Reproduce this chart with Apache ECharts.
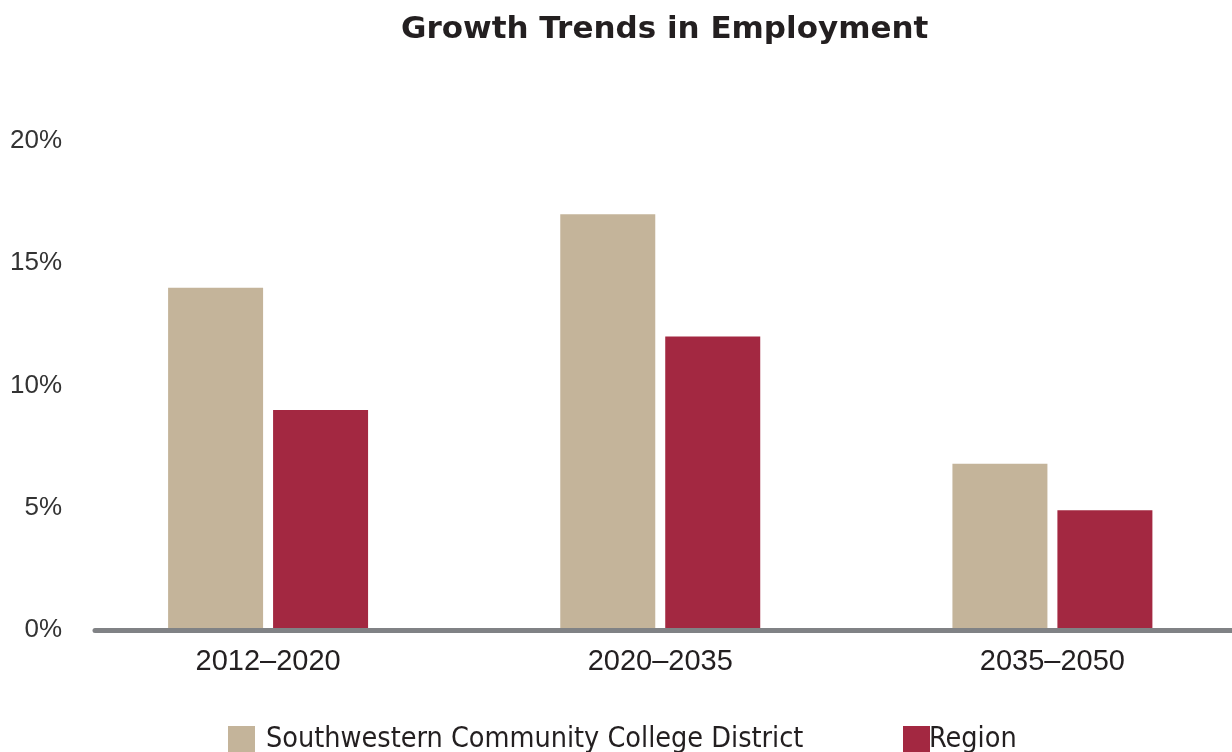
<!DOCTYPE html>
<html>
<head>
<meta charset="utf-8">
<script src="https://cdn.jsdelivr.net/npm/echarts@6/dist/echarts.min.js"></script>
<style>
  html, body { margin: 0; padding: 0; background: #fff; overflow: hidden; }
  /* a touch wider than the window so the last category band can run off the right edge */
  #chart { width: 1250px; height: 752px; }
</style>
</head>
<body>
<div id="chart"></div>
<script>
// periods along the x axis
var periods = ['2012–2020', '2020–2035', '2035–2050']
// employment growth, percent
var districtGrowth = [14, 17, 6.8]
var regionGrowth = [9, 12, 4.9]
var yTicks = { min: 0, max: 20, step: 5 }

var chart = echarts.init(document.getElementById('chart'))

var legendText = {
  fontFamily: "'DejaVu Sans Condensed', 'Roboto Condensed', Roboto, sans-serif",
  fontSize: 28.5,
  color: '#231f20'
}

chart.setOption({
  animation: false,
  title: {
    text: 'Growth Trends in Employment',
    left: 396,
    top: 9,
    textStyle: {
      fontFamily: 'DejaVu Sans',
      fontWeight: 'bold',
      fontSize: 31,
      color: '#231f20'
    }
  },
  legend: [
    {
      data: ['Southwestern Community College District'],
      left: 223,
      top: 720,
      itemWidth: 27,
      itemHeight: 27,
      icon: 'rect',
      textStyle: Object.assign({ padding: [0, 0, 0, 6] }, legendText)
    },
    {
      data: ['Region'],
      left: 898,
      top: 720,
      itemWidth: 27,
      itemHeight: 27,
      icon: 'rect',
      textStyle: Object.assign({ padding: [0, 0, 0, -6] }, legendText)
    }
  ],
  grid: [
    { left: 72, right: 1.5, top: 141, bottom: 122 },
    { left: 95, right: 18, top: 141, bottom: 121.5 }
  ],
  xAxis: [
    {
      type: 'category',
      gridIndex: 0,
      data: periods,
      axisLine: { show: false },
      axisTick: { show: false },
      axisLabel: {
        margin: 17,
        fontFamily: 'Liberation Sans',
        fontSize: 29,
        color: '#231f20'
      }
    },
    {
      type: 'category',
      gridIndex: 1,
      data: [''],
      z: 5,
      axisLine: { show: true, onZero: false, lineStyle: { color: '#808285', width: 5 } },
      axisTick: { show: false },
      axisLabel: { show: false }
    }
  ],
  yAxis: [
    {
      type: 'value',
      gridIndex: 0,
      min: yTicks.min,
      max: yTicks.max,
      interval: yTicks.step,
      axisLine: { show: false },
      axisTick: { show: false },
      splitLine: { show: false },
      axisLabel: {
        formatter: '{value}%',
        margin: 10,
        padding: [6, 0, 0, 0],
        fontFamily: 'Liberation Sans',
        fontSize: 26,
        color: '#333'
      }
    },
    { type: 'value', gridIndex: 1, show: false }
  ],
  series: [
    {
      name: 'Southwestern Community College District',
      type: 'bar',
      data: districtGrowth,
      barWidth: 95,
      barGap: '10.5%',
      itemStyle: { color: '#c4b49a' }
    },
    {
      name: 'Region',
      type: 'bar',
      data: regionGrowth,
      barWidth: 95,
      itemStyle: { color: '#a32841' }
    }
  ]
})
</script>
</body>
</html>
